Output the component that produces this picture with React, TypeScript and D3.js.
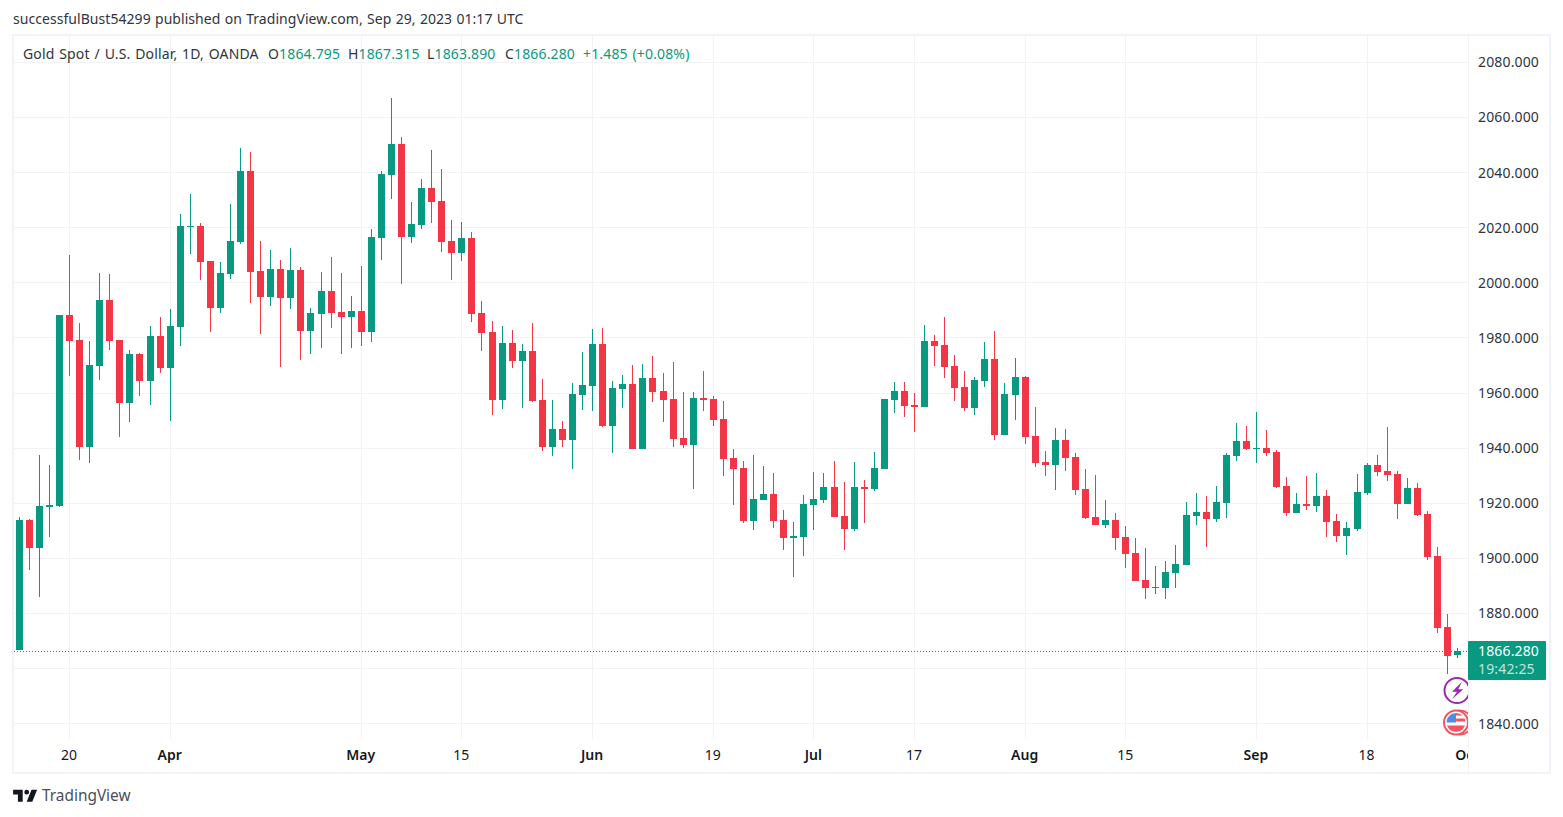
import { useEffect, useRef } from "react"
import * as d3 from "d3"

const opens = [
  1866.7, 1913.9, 1903.9, 1918.8, 1919.0, 1988.3, 1979.3, 1940.4, 1969.9, 1993.7,
  1979.3, 1956.4, 1974.2, 1964.3, 1980.7, 1969.0, 1984.0, 2020.3, 2020.5, 2007.9,
  1990.8, 2003.2, 2014.9, 2040.5, 2004.3, 1994.9, 2005.0, 1994.4, 2004.6, 1982.5,
  1988.6, 1997.1, 1989.4, 1987.6, 1989.7, 1982.2, 2016.4, 2039.1, 2050.4, 2016.7,
  2021.1, 2034.4, 2029.7, 2015.2, 2010.8, 2016.3, 1989.0, 1982.1, 1957.5, 1978.2,
  1971.6, 1975.2, 1957.5, 1940.4, 1946.9, 1942.9, 1959.3, 1962.5, 1977.8, 1948.0,
  1961.4, 1963.3, 1939.7, 1965.4, 1960.7, 1957.8, 1943.7, 1941.1, 1958.2, 1957.8,
  1950.6, 1936.4, 1932.8, 1913.5, 1921.2, 1923.3, 1913.9, 1907.4, 1907.7, 1919.3,
  1921.2, 1925.9, 1915.4, 1910.6, 1925.9, 1925.2, 1932.4, 1957.5, 1960.7, 1955.6,
  1954.9, 1978.9, 1977.4, 1969.8, 1962.2, 1954.6, 1964.4, 1972.3, 1944.8, 1959.3,
  1965.8, 1944.4, 1935.0, 1933.9, 1943.0, 1936.8, 1925.2, 1915.0, 1912.1, 1913.9,
  1907.7, 1901.9, 1892.1, 1889.2, 1889.2, 1894.7, 1897.6, 1915.4, 1916.8, 1914.3,
  1920.1, 1937.1, 1942.6, 1939.7, 1940.0, 1938.6, 1926.3, 1916.5, 1919.7, 1919.0,
  1922.6, 1913.5, 1908.1, 1910.6, 1923.7, 1933.9, 1931.7, 1930.6, 1919.7, 1925.5,
  1916.1, 1900.8, 1875.1, 1864.795,
]

const highs = [
  1915.0, 1914.3, 1937.5, 1933.9, 1988.3, 2010.1, 1985.4, 1978.9, 2003.6, 2003.2,
  1979.3, 1975.6, 1974.6, 1984.3, 1987.6, 1990.5, 2025.0, 2032.2, 2021.7, 2007.9,
  2007.5, 2028.6, 2048.9, 2047.5, 2015.1, 2012.0, 2008.3, 2012.6, 2005.7, 1990.8,
  2003.9, 2009.3, 2003.6, 1995.3, 2006.1, 2019.5, 2040.6, 2067.1, 2052.9, 2029.3,
  2037.7, 2048.2, 2041.3, 2022.8, 2022.1, 2018.4, 1993.4, 1986.1, 1984.3, 1982.9,
  1977.8, 1985.4, 1965.1, 1957.5, 1949.8, 1963.6, 1974.9, 1983.2, 1983.6, 1964.4,
  1966.5, 1970.2, 1970.5, 1973.4, 1967.3, 1971.3, 1960.4, 1960.4, 1968.0, 1958.9,
  1957.1, 1939.7, 1935.3, 1937.5, 1933.5, 1931.0, 1917.5, 1913.2, 1923.0, 1931.3,
  1931.0, 1935.3, 1927.7, 1935.0, 1928.4, 1938.6, 1957.8, 1964.0, 1964.0, 1960.0,
  1984.7, 1981.1, 1987.6, 1973.8, 1968.0, 1965.8, 1978.5, 1982.5, 1963.6, 1972.7,
  1966.2, 1954.9, 1939.0, 1947.3, 1947.0, 1938.2, 1932.4, 1930.2, 1921.2, 1916.5,
  1911.7, 1907.4, 1903.7, 1897.2, 1899.0, 1904.8, 1920.4, 1923.7, 1922.6, 1926.3,
  1938.2, 1949.1, 1948.0, 1953.1, 1946.6, 1939.3, 1929.5, 1923.7, 1929.9, 1931.0,
  1924.8, 1916.1, 1913.2, 1930.6, 1934.6, 1937.5, 1947.7, 1931.7, 1929.2, 1927.3,
  1917.2, 1904.1, 1879.8, 1867.315,
]

const lows = [
  1866.7, 1895.8, 1886.1, 1907.9, 1918.6, 1966.2, 1935.8, 1934.7, 1964.9, 1975.7,
  1944.0, 1949.6, 1959.0, 1955.8, 1967.1, 1950.0, 1977.2, 2010.3, 2001.1, 1982.0,
  1989.2, 2001.5, 2014.2, 1992.6, 1981.5, 1991.5, 1969.6, 1990.5, 1972.0, 1974.2,
  1976.4, 1983.6, 1974.2, 1976.4, 1977.1, 1978.6, 2008.3, 2030.5, 1999.7, 2014.6,
  2019.6, 2021.8, 2011.3, 2001.0, 2008.0, 1985.9, 1975.4, 1952.0, 1954.2, 1969.1,
  1954.5, 1956.7, 1938.9, 1937.1, 1940.4, 1932.4, 1953.8, 1953.5, 1947.6, 1938.2,
  1954.5, 1939.7, 1939.7, 1956.7, 1949.5, 1940.4, 1940.0, 1925.2, 1953.5, 1948.0,
  1929.9, 1919.3, 1912.8, 1910.3, 1921.2, 1911.0, 1903.0, 1893.3, 1900.8, 1910.3,
  1920.1, 1915.0, 1903.0, 1909.9, 1912.8, 1924.4, 1932.4, 1952.8, 1951.3, 1945.8,
  1954.9, 1969.8, 1965.4, 1957.1, 1953.5, 1952.0, 1962.2, 1943.0, 1944.8, 1950.2,
  1941.5, 1933.1, 1929.9, 1924.8, 1931.7, 1923.0, 1914.3, 1912.1, 1911.0, 1903.0,
  1896.5, 1891.8, 1885.2, 1887.0, 1885.2, 1889.2, 1897.6, 1912.1, 1904.1, 1913.2,
  1914.6, 1935.3, 1939.3, 1934.6, 1937.1, 1925.5, 1915.4, 1916.5, 1917.5, 1916.8,
  1907.7, 1905.9, 1901.2, 1909.9, 1923.0, 1929.9, 1928.1, 1914.3, 1919.7, 1915.4,
  1899.4, 1872.9, 1858.0, 1863.89,
]

const closes = [
  1913.9, 1903.9, 1919.0, 1919.3, 1988.3, 1978.9, 1940.4, 1970.1, 1993.7, 1978.9,
  1956.4, 1974.2, 1964.3, 1980.7, 1969.0, 1984.3, 2020.5, 2020.5, 2007.5, 1990.8,
  2003.6, 2015.1, 2040.5, 2003.9, 1994.9, 2005.0, 1994.4, 2004.6, 1982.5, 1989.0,
  1997.1, 1989.0, 1987.6, 1989.7, 1982.1, 2016.6, 2039.5, 2050.4, 2016.7, 2021.3,
  2034.4, 2029.3, 2014.8, 2010.8, 2016.3, 1988.7, 1981.8, 1957.5, 1978.2, 1971.6,
  1975.2, 1957.1, 1940.4, 1946.9, 1942.9, 1959.6, 1962.9, 1977.8, 1948.0, 1961.8,
  1963.3, 1939.7, 1965.4, 1960.4, 1957.5, 1943.3, 1941.1, 1958.2, 1957.5, 1950.2,
  1936.0, 1932.4, 1913.5, 1921.5, 1923.3, 1913.5, 1907.4, 1908.1, 1919.7, 1921.5,
  1925.9, 1915.0, 1910.6, 1925.9, 1925.2, 1932.8, 1957.8, 1960.7, 1955.3, 1954.9,
  1978.9, 1977.1, 1969.4, 1961.8, 1954.6, 1964.7, 1972.3, 1944.8, 1959.6, 1965.8,
  1944.0, 1934.6, 1933.9, 1943.0, 1936.4, 1924.8, 1914.6, 1912.1, 1913.9, 1907.4,
  1901.6, 1891.8, 1889.2, 1889.6, 1895.0, 1897.9, 1915.7, 1916.8, 1914.3, 1920.4,
  1937.5, 1942.6, 1939.7, 1940.0, 1938.2, 1925.9, 1916.5, 1919.7, 1919.0, 1922.6,
  1913.2, 1908.1, 1911.0, 1924.1, 1933.9, 1931.3, 1930.2, 1919.7, 1925.5, 1915.7,
  1900.5, 1874.7, 1864.5, 1866.28,
]

const priceTicks = [1840, 1860, 1880, 1900, 1920, 1940, 1960, 1980, 2000, 2020, 2040, 2060, 2080]
const priceLabelSkip = [1860]

// bar index of each time axis label
const timeTickBars = [5, 15, 34, 44, 57, 69, 79, 89, 100, 110, 123, 134, 144]
const timeTickLabels = ["20", "Apr", "May", "15", "Jun", "19", "Jul", "17", "Aug", "15", "Sep", "18", "Oct"]
const monthLabels = ["Apr", "May", "Jun", "Jul", "Aug", "Sep", "Oct"]

const legendParts = [
  { label: "O", value: "1864.795" },
  { label: "H", value: "1867.315" },
  { label: "L", value: "1863.890" },
  { label: "C", value: "1866.280" },
]

const UP = "#089981"
const DOWN = "#f23645"
const GRID = "#f3f3f5"
const BORDER = "#f0f3fa"
const TEXT = "#2f3541"
const FONT = "'Noto Sans', sans-serif"

export default function App() {
  const svgRef = useRef<SVGSVGElement>(null)

  useEffect(() => {
    if (!svgRef.current) return

    const width = 1563
    const height = 817
    const pane = { left: 14, right: 1468, top: 35, bottom: 739 }

    const svg = d3.select(svgRef.current).attr("width", width).attr("height", height)
    svg.selectAll("*").remove()

    const x = d3.scaleLinear().domain([0, 143]).range([19.3, 1457.6])
    const y = d3.scaleLinear().domain([1840, 2080]).range([723.6, 62.4])
    const px = (v: number) => Math.floor(x(v))
    const py = (v: number) => Math.round(y(v))
    const gridY = (v: number) => Math.floor(y(v)) + 0.5

    const defs = svg.append("defs")
    defs
      .append("clipPath")
      .attr("id", "pane-clip")
      .append("rect")
      .attr("x", pane.left)
      .attr("y", pane.top)
      .attr("width", pane.right - pane.left)
      .attr("height", pane.bottom - pane.top)
    defs
      .append("clipPath")
      .attr("id", "time-clip")
      .append("rect")
      .attr("x", pane.left + 1)
      .attr("y", -5)
      .attr("width", pane.right - pane.left)
      .attr("height", 30)

    // header
    svg
      .append("text")
      .attr("x", 13)
      .attr("y", 24)
      .attr("font-family", FONT)
      .attr("font-size", 14)
      .attr("letter-spacing", 0.05)
      .attr("word-spacing", 0.6)
      .attr("fill", TEXT)
      .text("successfulBust54299 published on TradingView.com, Sep 29, 2023 01:17 UTC")

    // outer frame
    svg
      .append("rect")
      .attr("x", 13)
      .attr("y", 35)
      .attr("width", 1537)
      .attr("height", 738)
      .attr("fill", "none")
      .attr("stroke", BORDER)
      .attr("stroke-width", 2)

    // grid
    const grid = svg.append("g").attr("shape-rendering", "crispEdges").attr("stroke", GRID)
    grid
      .selectAll("line.h")
      .data(priceTicks)
      .join("line")
      .attr("class", "h")
      .attr("x1", pane.left)
      .attr("x2", pane.right)
      .attr("y1", (d) => gridY(d))
      .attr("y2", (d) => gridY(d))
    grid
      .selectAll("line.v")
      .data(timeTickBars.slice(0, -1))
      .join("line")
      .attr("class", "v")
      .attr("x1", (d) => px(d) + 0.5)
      .attr("x2", (d) => px(d) + 0.5)
      .attr("y1", pane.top)
      .attr("y2", pane.bottom)

    // axis separator
    svg
      .append("line")
      .attr("x1", pane.right + 0.5)
      .attr("x2", pane.right + 0.5)
      .attr("y1", pane.top)
      .attr("y2", 772)
      .attr("stroke", GRID)
      .attr("shape-rendering", "crispEdges")

    // last price line
    svg
      .append("line")
      .attr("x1", pane.left)
      .attr("x2", pane.right)
      .attr("y1", gridY(closes[143]))
      .attr("y2", gridY(closes[143]))
      .attr("stroke", UP)
      .attr("stroke-dasharray", "1 2")
      .attr("shape-rendering", "crispEdges")

    // candles
    const candles = svg
      .append("g")
      .attr("clip-path", "url(#pane-clip)")
      .attr("shape-rendering", "crispEdges")
      .selectAll("g")
      .data(d3.range(opens.length))
      .join("g")
      .attr("fill", (i) => (closes[i] >= opens[i] ? UP : DOWN))

    candles
      .append("rect")
      .attr("x", (i) => px(i))
      .attr("width", 1)
      .attr("y", (i) => py(highs[i]))
      .attr("height", (i) => py(lows[i]) - py(highs[i]))

    candles
      .append("rect")
      .attr("x", (i) => px(i) - 3)
      .attr("width", 7)
      .attr("y", (i) => py(Math.max(opens[i], closes[i])))
      .attr("height", (i) => Math.max(1, py(Math.min(opens[i], closes[i])) - py(Math.max(opens[i], closes[i]))))

    // legend line
    const legend = svg
      .append("text")
      .attr("x", 23)
      .attr("y", 59)
      .attr("font-family", FONT)
      .attr("font-size", 14)
      .attr("letter-spacing", 0.15)
      .attr("word-spacing", 1)
      .attr("fill", TEXT)
    legend.append("tspan").text("Gold Spot / U.S. Dollar, 1D, OANDA")
    const legendX = [268, 348, 427, 505]
    legendParts.forEach((p, i) => {
      legend.append("tspan").attr("x", legendX[i]).text(p.label)
      legend.append("tspan").attr("fill", UP).text(p.value)
    })
    legend.append("tspan").attr("x", 583).attr("fill", UP).text("+1.485 (+0.08%)")

    // price axis
    const priceAxis = svg
      .append("g")
      .attr("transform", `translate(${pane.right},0)`)
      .call(
        d3
          .axisRight(y)
          .tickValues(priceTicks.filter((d) => !priceLabelSkip.includes(d)))
          .tickSize(0)
          .tickPadding(10)
          .tickFormat((d) => d3.format(".3f")(d as number)),
      )
    priceAxis.select(".domain").remove()
    priceAxis
      .selectAll("text")
      .attr("font-family", FONT)
      .attr("font-size", 14)
      .attr("letter-spacing", 0.15)
      .attr("fill", TEXT)

    // time axis, the Oct label runs under the price axis edge
    const timeAxis = svg
      .append("g")
      .attr("clip-path", "url(#time-clip)")
      .attr("transform", "translate(-1,750)")
      .call(
        d3
          .axisBottom(x)
          .tickValues(timeTickBars)
          .tickSize(0)
          .tickPadding(0)
          .tickFormat((_, i) => timeTickLabels[i]),
      )
    timeAxis.select(".domain").remove()
    timeAxis
      .selectAll("text")
      .attr("font-family", FONT)
      .attr("font-size", 14)
      .attr("fill", "#131722")
      .attr("font-weight", (_, i) => (monthLabels.includes(timeTickLabels[i]) ? 600 : 400))

    // last price tag
    svg
      .append("rect")
      .attr("x", pane.right)
      .attr("y", 641)
      .attr("width", 78)
      .attr("height", 39)
      .attr("rx", 1)
      .attr("fill", UP)
    svg
      .append("text")
      .attr("x", 1478)
      .attr("y", 656)
      .attr("font-family", FONT)
      .attr("font-size", 14)
      .attr("letter-spacing", 0.15)
      .attr("fill", "#ffffff")
      .text(d3.format(".3f")(closes[143]))
    svg
      .append("text")
      .attr("x", 1478)
      .attr("y", 674)
      .attr("font-family", FONT)
      .attr("font-size", 14)
      .attr("letter-spacing", 0.15)
      .attr("fill", "#ffffff")
      .attr("fill-opacity", 0.75)
      .text("19:42:25")

    // event badges
    const badges = svg.append("g").attr("clip-path", "url(#pane-clip)")
    const bolt = badges.append("g").attr("transform", "translate(1457,690.5)")
    bolt.append("circle").attr("r", 12.5).attr("fill", "#fff").attr("stroke", "#9c27b0").attr("stroke-width", 2)
    bolt
      .append("path")
      .attr("transform", "scale(1.25)")
      .attr("d", "M4,-7 L-4,1 L0,1 L-4,7 L5,-1 L1,-1 Z")
      .attr("fill", "#9c27b0")

    const flag = badges.append("g").attr("transform", "translate(1456,722.5)")
    flag.append("circle").attr("cx", 4).attr("r", 12).attr("fill", "#fff").attr("stroke", "#f7525f").attr("stroke-width", 2)
    flag.append("circle").attr("r", 12).attr("fill", "#fff").attr("stroke", "#f7525f").attr("stroke-width", 2)
    flag.append("clipPath").attr("id", "flag-clip").append("circle").attr("r", 9.5)
    const stripes = flag.append("g").attr("clip-path", "url(#flag-clip)")
    stripes.append("rect").attr("x", -10).attr("y", 0).attr("width", 20).attr("height", 3).attr("fill", "#fff")
    stripes.append("rect").attr("x", -10).attr("y", 3).attr("width", 20).attr("height", 7).attr("fill", "#f7525f")
    stripes.append("rect").attr("x", 0).attr("y", -10).attr("width", 10).attr("height", 3).attr("fill", "#f7525f")
    stripes.append("rect").attr("x", 0).attr("y", -4).attr("width", 10).attr("height", 3).attr("fill", "#f7525f")
    stripes.append("rect").attr("x", -10).attr("y", -10).attr("width", 10).attr("height", 10).attr("fill", "#4a90e2")

    // footer logo
    svg
      .append("path")
      .attr("transform", "translate(11.5,785) scale(0.8)")
      .attr("d", "M14 6H2v6h6v9h6V6Zm12 15h-7l6-15h7l-6 15Zm-7-9a3 3 0 1 0 0-6 3 3 0 0 0 0 6Z")
      .attr("fill", "#131722")
    svg
      .append("text")
      .attr("x", 42)
      .attr("y", 801)
      .attr("font-family", FONT)
      .attr("font-size", 15.4)
      .attr("fill", "#4a4f5a")
      .text("TradingView")
  }, [])

  return <svg ref={svgRef} style={{ position: "absolute", left: 0, top: 0 }} />
}
